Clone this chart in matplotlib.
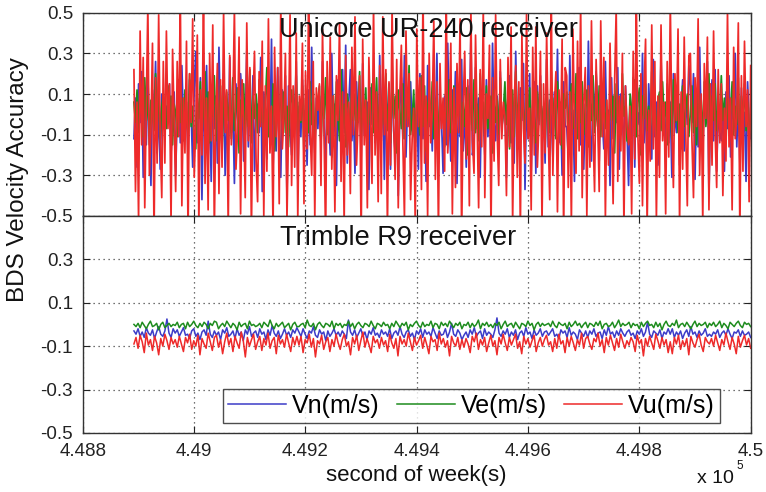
import numpy as np
import matplotlib
matplotlib.use("Agg")
import matplotlib.pyplot as plt
from matplotlib.ticker import FixedLocator, FixedFormatter

plt.rcParams['font.family'] = ['Liberation Sans', 'DejaVu Sans']

# ---- data (velocity errors in mm/s, converted to m/s below) ----
t_start = 448892.0
t_end = 450000.0

top_vn = [
    -120, 80, -260, 150, -40, 210, -310, 60, -150, 190, -80, -350, 120, -20, 260, -190, 40, -270, 100, -60,
    -80, 40, -20, 150, -190, -60, 110, -300, 20, 90, -140, 240, -30, -110, 60, -220, 170, 10, -260, 130,
    310, -140, -30, 180, -420, 70, -110, 240, -200, 20, -330, 140, -70, 90, -240, 330, -50, -160, 200, -300,
    -50, -180, 280, -90, 30, -340, 150, -10, -120, 200, 70, -230, -40, 310, -160, 50, -90, 190, -280, 0,
    50, -90, 280, -380, 110, -10, -220, 160, -130, 370, -260, 30, -180, 230, -70, -310, 120, -20, 190, -410,
    140, -70, -200, 90, -20, 260, -320, 40, -110, 170, -60, 20, -250, 120, -150, 330, -30, -190, 80, -70,
    90, -150, 260, -60, -280, 140, 10, -200, 300, -110, 50, -350, 170, -40, -160, 220, -90, 340, -240, 60,
    220, -130, 10, -290, 160, -40, 100, -210, 250, -100, -20, 60, -370, 130, -50, 180, -140, 30, -230, 290,
    -130, 200, -320, 80, -30, 150, -270, 250, -80, -190, 110, -400, 30, 180, -120, 290, -210, 40, -60, 160,
    -80, 50, -160, 110, -270, 200, -10, -120, 70, -330, 240, -60, 20, -180, 150, -90, 300, -240, 40, -30,
    -290, 90, -150, 350, -20, -230, 120, -70, 210, -340, 70, -110, 270, -180, 20, -260, 140, -50, 380, -200,
    -150, 230, -70, 80, -310, 120, -20, -200, 170, -110, 60, -260, 350, -40, -130, 90, -190, 210, -70, 10,
    100, -310, 30, 190, -140, 60, -240, 310, -90, -170, 130, -30, 250, -370, 80, -120, 200, -280, 40, 160,
    -290, 140, -50, 190, -100, 30, -240, 270, -160, 70, -20, -210, 110, -80, 320, -140, 40, -300, 160, -60,
    -60, -210, 290, -100, 20, -330, 170, -40, 230, -150, 110, -270, 50, -190, 360, -80, -230, 130, -10, 210,
    50, -230, 130, -30, -170, 260, -90, 20, -350, 180, -120, 80, -40, 230, -270, 100, -10, -190, 140, -80,
    -350, 70, -120, 180, -260, 240, -50, 10, -190, 300, -140, 90, -300, 150, -20, -220, 270, -110, 60, -250,
    -110, 280, -60, 30, -220, 150, -140, 60, -310, 200, -20, -90, 120, -250, 40, 170, -180, 90, -50, 240,
    130, -40, 200, -320, 80, -160, 330, -70, -210, 120, -30, 260, -400, 40, 170, -130, 220, -280, 20, -90,
    -130, 20, -280, 110, -70, 190, -210, 50, -30, 300, -160, 80, -240, 130, -100, 10, -330, 160, -40, -120,
]

top_ve = [
    60, -40, 120, -90, 150, 20, -110, 180, -30, 90, -150, 70, 10, -80, 200, -60, 130, -120, 40, 100,
    30, -70, 140, -20, 90, -150, 50, 10, -110, 170, -40, 80, -130, 120, 0, -90, 200, -60, 40, -170,
    -170, 80, -20, 160, -100, 30, 210, -70, 110, -140, 50, -10, 190, -130, 70, -60, 140, -200, 90, 20,
    110, -30, 60, -120, 180, -80, 20, 130, -190, 70, -10, 150, -100, 40, -60, 220, -140, 90, -20, 100,
    -90, 170, -40, 100, -160, 60, 230, -110, 30, -50, 150, -180, 80, 10, -120, 190, -30, 110, -90, 40,
    -160, 50, 120, -70, 10, 190, -110, 60, -40, 140, -200, 80, 30, -90, 160, -50, 110, -130, 20, 70,
    140, -150, 70, -20, 180, -100, 40, 120, -210, 90, -60, 160, 0, -130, 220, -70, 50, -160, 100, 30,
    -80, 170, -30, 100, -150, 40, 210, -120, 60, -10, 130, -170, 90, -50, 150, -90, 30, 180, -110, 50,
    -110, 130, -50, 200, -80, 60, -140, 170, -20, 90, -190, 120, 20, -70, 150, -120, 80, -30, 240, -100,
    -20, 120, -140, 70, 10, -100, 190, -60, 140, -180, 40, 100, -40, 160, -120, 20, 80, -150, 110, -30,
    50, -160, 110, -40, 170, -90, 20, 140, -130, 70, -10, 190, -150, 60, -60, 130, -200, 100, 30, -80,
    170, -90, 50, -130, 200, -20, 60, -110, 140, -70, 30, 90, -190, 120, -40, 70, -100, 180, -60, 10,
    160, -50, 90, -170, 40, 120, -110, 210, -30, 60, -140, 100, 10, -90, 180, -60, 130, -180, 70, -20,
    -140, 110, -30, 150, -80, 40, -160, 130, 0, -90, 210, -50, 80, -120, 160, -20, 60, -170, 100, 30,
    110, -130, 50, 150, -70, -10, 200, -120, 80, -40, 160, -100, 30, 120, -160, 70, -30, 190, -90, 40,
    -60, 140, -110, 50, 180, -70, 20, -140, 120, -30, 90, -190, 150, -50, 70, -100, 200, -10, 40, -130,
    -140, 100, 20, -60, 170, -110, 60, 130, -200, 90, -20, 150, -80, 40, -130, 210, -50, 110, -170, 60,
    110, -80, 160, -20, 60, -150, 90, 30, -120, 170, -40, 130, -90, 50, -170, 140, -60, 20, 100, -110,
    10, 140, -90, 80, -150, 180, -40, 70, -120, 160, -60, 30, 200, -110, 90, -30, 150, -80, 50, 0,
    190, -30, 80, -140, 120, -70, 10, 160, -100, 40, -50, 180, -130, 90, -20, 150, -80, 60, -160, 30,
]

top_vu = [
    220, -380, 60, -520, 410, -150, 280, -460, 30, 540, -300, -80, 350, -600, 180, -240, 490, -120, -410, 260,
    -240, 410, -70, 150, -530, 320, -20, -380, 260, -110, 590, -450, 80, -190, 360, -600, 200, -40, 470, -310,
    -50, 390, -550, 120, -200, 620, -340, 80, -470, 300, -130, 440, -580, 20, 250, -390, 170, -260, 510, -90,
    120, -560, 290, -150, 40, 520, -270, -90, 380, -490, 170, -20, -410, 450, -130, 230, -580, 60, 310, -220,
    -430, 210, -60, 360, -500, 140, -280, 470, -190, 40, -560, 330, -110, 230, -440, 560, -170, -20, 300, -520,
    -60, 490, -350, 140, -260, 400, -520, 90, -30, 350, -440, 210, -170, 570, -80, -300, 260, -510, 130, 20,
    150, -350, 420, -80, -610, 260, -140, 380, -270, 90, -480, 190, -30, 450, -330, 110, -540, 290, -200, 60,
    -390, 330, -100, 480, -250, -40, 190, -620, 370, -150, 70, -460, 280, -10, -340, 540, -200, 110, -430, 240,
    -390, 480, -100, 220, -570, 160, -250, 530, -40, -320, 270, -460, 100, 340, -150, -510, 410, -60, 200, -420,
    -120, 30, -550, 420, -60, 180, -370, 610, -240, 90, -500, 300, -140, 20, 460, -320, 160, -580, 250, -70,
    80, -280, 600, -190, -30, 350, -490, 130, -360, 250, -90, 470, -620, 40, 310, -220, 170, -450, 520, -130,
    -290, 390, -30, -460, 220, -160, 530, -410, 100, -20, 340, -570, 180, -230, 490, -90, -350, 270, -120, 60,
    -10, -400, 280, -160, 430, -530, 70, 240, -310, 160, -580, 390, -70, -240, 500, -120, 30, -470, 330, -200,
    430, -260, -50, 310, -540, 150, -190, 400, -80, -420, 580, -300, 40, 210, -480, 120, -150, 370, -600, 230,
    190, -360, 110, -540, 420, -50, -290, 360, -180, 550, -410, 60, 230, -500, 140, -260, 460, -90, -380, 270,
    -20, -380, 460, -110, 280, -510, 70, -250, 350, -40, -440, 170, 520, -330, 90, -180, 300, -560, 140, -60,
    -150, 40, -490, 310, -220, 580, -100, -340, 200, -450, 120, 370, -560, 20, -230, 440, -170, 260, -520, 90,
    -310, 440, -130, 60, -490, 260, -210, 550, -70, -360, 200, -30, 420, -540, 110, -270, 380, -100, -450, 290,
    300, -130, -410, 180, -60, 470, -300, 100, -530, 250, -20, 380, -470, 150, -250, 410, -90, -360, 220, -140,
    150, -400, 30, -230, 510, -160, 80, -470, 330, -120, -20, 450, -590, 190, -280, 360, -60, 120, -430, 240,
]

bot_vn = [
    -30, -45, -20, -55, -35, -60, -15, -40, -50, -25, -65, -35, -10, -45, -55, -30, 25, -40, -60, -20,
    -40, -25, -55, -35, -15, -50, -45, -65, -30, -20, -55, -40, -70, -35, -25, -50, 15, -45, -60, -30,
    -50, -35, -70, -25, -40, -15, -55, -45, -30, -65, -20, -50, -35, -75, -25, -45, -10, -55, -40, -30,
    -60, -20, -45, -35, -70, -25, -50, -5, -40, -55, -30, -65, -45, -20, -50, -35, -60, -25, -40, -15,
    -35, -55, -20, -45, -65, -30, -40, -10, -50, -60, -25, -45, -35, -75, -30, -55, -40, -20, -50, -35,
    -55, -30, -45, -65, 20, -35, -50, -25, -60, -40, -20, -55, -35, -70, -30, -45, -15, -50, -40, -60,
    -25, -45, -35, -55, -20, -65, -40, -30, -50, -10, -45, -60, -35, -25, -55, -40, -70, -30, -45, -20,
    -60, -25, -45, -35, -55, -15, -40, -65, -30, -50, -45, -20, -60, -35, 5, -45, -55, -25, -40, -70,
    -50, -35, -60, -25, -45, -15, -55, -40, -30, -65, -20, -50, -35, -45, -60, -25, 30, -40, -55, -30,
    -45, -20, -60, -35, -50, -25, -70, -40, -30, -55, -15, -45, -35, -65, -25, -50, -40, -20, -55, -35,
    -30, -50, -35, -20, -55, -45, -65, -25, -40, -30, -60, -15, -50, -35, -45, -70, -25, -40, -55, -30,
    -60, -30, -45, -20, -55, -40, -35, -65, -25, -50, -10, -45, -35, -60, -30, -50, -20, -40, -55, -35,
    -25, -50, -40, -65, -30, -45, -20, -55, -35, 10, -45, -60, -30, -40, -50, -25, -65, -35, -45, -20,
    -45, -20, -60, -35, -50, -30, -65, -40, -25, -55, -10, -45, -35, -60, -30, -50, -40, -20, -55, -45,
    -55, -35, -45, -25, -60, -40, -30, -50, -20, -45, -65, -35, -40, -25, -55, -30, -50, -45, -35, -60,
]

bot_ve = [
    0, -10, 5, -15, 10, -5, -20, 0, 15, -10, -5, 5, -25, 0, 10, -15, -5, 5, -10, 0,
    -5, 10, -15, 0, 5, -20, 10, -10, 0, 15, -5, -15, 5, -10, 10, 0, -20, 5, -5, 15,
    10, -20, -5, 5, -10, 15, 0, -15, 5, -5, -25, 10, -10, 0, 5, -20, 15, -5, 0, -10,
    -5, 5, -15, 10, 0, -10, 20, -5, -20, 5, -10, 0, 10, -15, -5, 5, -25, 0, 10, -10,
    -10, 0, 5, -15, 20, -5, -10, 5, -25, 0, 10, -5, -15, 5, 0, -10, 15, -20, 5, -5,
    5, -15, 0, -5, 15, -10, 5, -20, 0, 10, -5, -15, 5, 0, -10, 15, -5, -20, 5, 0,
    -10, 10, -5, 0, -20, 5, -10, 15, 0, -15, 5, -5, 10, -25, 0, -10, 5, 15, -5, -15,
    10, -10, 0, -5, 15, -15, 5, 0, -20, 10, -5, 5, -10, 15, 0, -15, 5, -5, 10, -20,
    0, -5, 10, -15, 5, -10, 0, 20, -20, 5, -5, 10, -10, 0, -15, 5, -5, 10, -20, 0,
    15, -10, 0, 5, -15, 10, -5, -20, 5, 0, -10, 15, -5, 5, -25, 0, 10, -10, 5, -5,
    0, 5, -10, 15, -5, -15, 10, 0, -5, 5, -20, 10, -10, 0, 15, -5, 5, -15, 0, 10,
    -15, 5, 0, -10, 10, -5, 15, -20, 0, 5, -10, -5, 10, -15, 0, 20, -10, 5, -5, 0,
    10, -15, 5, -5, 0, -20, 10, -10, 5, 15, -5, 0, -15, 10, -10, 5, -25, 0, 15, -5,
    -10, 5, -5, 20, -15, 0, 5, -10, 10, -5, -20, 0, 15, -10, 5, -5, 0, 10, -15, 5,
    -5, 10, -10, 0, 15, -15, 5, -5, -20, 10, 0, -10, 5, 15, -5, -15, 10, 0, 5, -10,
]

bot_vu = [
    -90, -60, -110, -50, -80, -130, -40, -95, -70, -120, -55, -85, -140, -65, -100, -45, -75, -115, -60, -90,
    -70, -105, -55, -90, -125, -60, -85, -45, -115, -75, -100, -50, -140, -65, -90, -110, -40, -80, -120, -60,
    -50, -105, -70, -135, -80, -40, -95, -65, -125, -55, -85, -110, -35, -75, -150, -60, -100, -70, -45, -115,
    -80, -55, -120, -65, -95, -40, -110, -75, -60, -135, -50, -90, -70, -105, -45, -85, -125, -60, -95, -55,
    -95, -55, -130, -70, -85, -45, -105, -65, -150, -75, -90, -50, -115, -80, -60, -125, -70, -100, -45, -85,
    -115, -70, -45, -100, -80, -140, -60, -90, -50, -120, -75, -35, -105, -65, -95, -130, -55, -85, -70, -110,
    -60, -95, -75, -125, -45, -85, -110, -65, -145, -55, -90, -70, -100, -40, -80, -120, -60, -95, -75, -50,
    -110, -60, -95, -135, -55, -80, -70, -120, -40, -90, -65, -105, -75, -145, -55, -85, -100, -60, -115, -70,
    -105, -65, -90, -130, -55, -80, -40, -115, -70, -95, -60, -125, -85, -50, -100, -75, -140, -60, -90, -45,
    -85, -120, -60, -95, -70, -45, -110, -80, -135, -55, -90, -65, -105, -75, -50, -125, -85, -60, -100, -70,
    -50, -95, -80, -125, -65, -110, -45, -90, -75, -130, -60, -100, -55, -85, -120, -70, -95, -40, -110, -65,
    -55, -90, -115, -65, -80, -40, -100, -70, -130, -60, -95, -50, -85, -120, -65, -105, -45, -80, -110, -75,
    -95, -60, -80, -125, -50, -90, -70, -145, -65, -100, -55, -85, -115, -45, -75, -110, -60, -95, -70, -130,
    -80, -135, -60, -90, -50, -115, -75, -100, -65, -140, -55, -85, -105, -70, -45, -95, -125, -60, -80, -90,
    -65, -100, -50, -85, -120, -70, -95, -40, -80, -115, -60, -90, -135, -55, -105, -75, -50, -95, -65, -110,
]

series_labels = ['Vn(m/s)', 'Ve(m/s)', 'Vu(m/s)']
panel_titles = ['Unicore UR-240 receiver', 'Trimble R9 receiver']
x_ticks = [448800, 449000, 449200, 449400, 449600, 449800, 450000]
x_tick_labels = ['4.488', '4.49', '4.492', '4.494', '4.496', '4.498', '4.5']
y_ticks_top = [0.5, 0.3, 0.1, -0.1, -0.3, -0.5]
y_ticks_bot = [0.3, 0.1, -0.1, -0.3, -0.5]

colors = ['#3c3cc8', '#1e8c1e', '#ee2a2a']

# ---- figure ----
fig = plt.figure(figsize=(7.66, 4.92), dpi=100)
gs = fig.add_gridspec(2, 1, height_ratios=[203, 217], hspace=0,
                      left=0.108, right=0.980, top=0.974, bottom=0.12)
ax_top = fig.add_subplot(gs[0])
ax_bot = fig.add_subplot(gs[1], sharex=ax_top)

def draw(ax, data, lw):
    handles = []
    for vals, c, lab in zip(data, colors, series_labels):
        v = np.asarray(vals, dtype=float) / 1000.0
        t = np.linspace(t_start, t_end, len(v))
        h, = ax.plot(t, v, color=c, lw=lw, label=lab)
        handles.append(h)
    return handles

draw(ax_top, [top_vn, top_ve, top_vu], 1.25)
handles = draw(ax_bot, [bot_vn, bot_ve, bot_vu], 1.1)

for ax, yt in ((ax_top, y_ticks_top), (ax_bot, y_ticks_bot)):
    ax.set_xlim(448800, 450000)
    ax.set_ylim(-0.5, 0.5)
    ax.yaxis.set_major_locator(FixedLocator(yt))
    ax.yaxis.set_major_formatter(FixedFormatter([('%g' % y) for y in yt]))
    ax.xaxis.set_major_locator(FixedLocator(x_ticks))
    ax.grid(True, linestyle=(0, (1, 3)), color='#444444', linewidth=0.9)
    ax.tick_params(direction='in', length=5, width=0.8, top=True, right=True,
                   labelsize=13.5, colors='#222222', pad=7)
    for s in ax.spines.values():
        s.set_color('#333333')
        s.set_linewidth(1.0)

ax_top.tick_params(labelbottom=False)
ax_bot.xaxis.set_major_formatter(FixedFormatter(x_tick_labels))

ax_top.text(0.518, 0.916, panel_titles[0], transform=ax_top.transAxes,
            ha='center', va='center', fontsize=19.5, color='#111111', zorder=5)
ax_bot.text(0.472, 0.90, panel_titles[1], transform=ax_bot.transAxes,
            ha='center', va='center', fontsize=19.5, color='#111111', zorder=5)

ax_bot.set_xlabel('second of week(s)', fontsize=16, labelpad=4, color='#111111')
fig.text(0.024, 0.636, 'BDS Velocity Accuracy', rotation=90, ha='center', va='center',
         fontsize=17.5, color='#111111')
fig.text(0.910, 0.027, 'x 10', fontsize=14, ha='left', va='center', color='#111111')
fig.text(0.962, 0.052, '5', fontsize=8.5, ha='left', va='center', color='#111111')

leg = ax_bot.legend(handles=handles, loc='lower right', bbox_to_anchor=(0.954, 0.046),
                    ncol=3, fontsize=18, frameon=True, fancybox=False,
                    handlelength=2.3, handletextpad=0.25, columnspacing=0.7,
                    borderpad=0.2, borderaxespad=0)
leg.get_frame().set_edgecolor('#222222')
leg.get_frame().set_linewidth(1.0)
leg.set_zorder(10)

fig.savefig('out.png', dpi=100)
